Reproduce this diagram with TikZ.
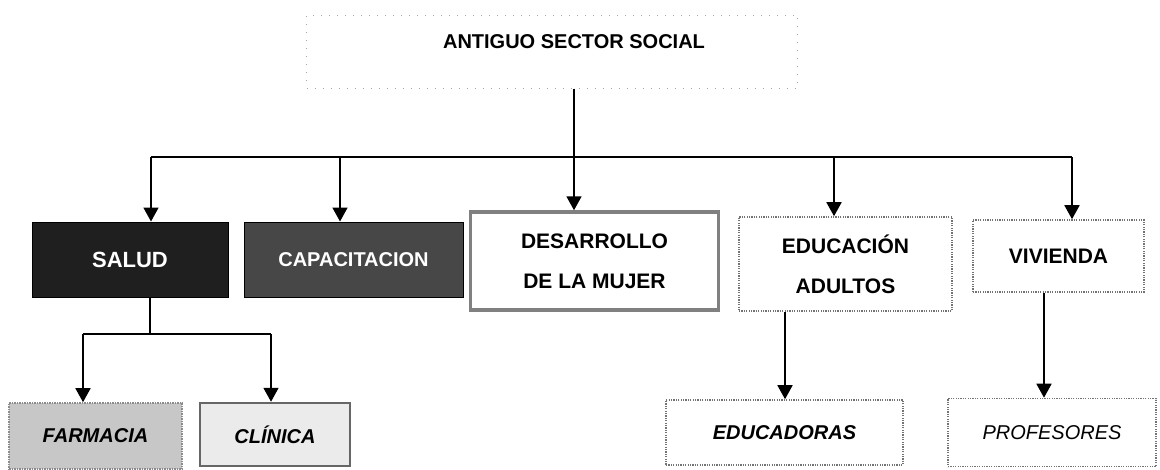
\documentclass[tikz,border=0pt]{standalone}
\usepackage{fontspec}
\setmainfont{Liberation Sans}
\usetikzlibrary{arrows.meta}

\tikzset{
  unitbox/.style={inner sep=0pt, align=center, font=\fontsize{21}{40}\selectfont\bfseries},
  darkbox/.style={unitbox, draw=black, line width=1pt, text=white, font=\fontsize{20}{24}\selectfont\bfseries},
  framebox/.style={unitbox, draw=black!50, line width=3.5pt, fill=white},
  dotbox/.style={unitbox, draw=black!55, line width=1.6pt, dash pattern=on 1.2pt off 1.2pt, fill=white},
  rootframe/.style={draw=black!35, line width=1pt, dash pattern=on 1pt off 7pt, inner sep=0pt},
  connector/.style={line width=1.8pt},
  arrowline/.style={connector, -{Triangle[width=15pt,length=14pt]}}
}

\begin{document}
\begin{tikzpicture}[x=1pt,y=-1pt]
        \useasboundingbox (0,0) rectangle (1160,469);

        \node[rootframe, minimum width=491, minimum height=73] (rootFrame) at (552,51.5) {};
        \node[font=\fontsize{20}{22}\selectfont\bfseries] (rootTitle) at (574,42) {ANTIGUO SECTOR SOCIAL};

        \node[darkbox, fill=black!88, minimum width=196, minimum height=75, font=\fontsize{22}{26}\selectfont\bfseries] (salud) at (130,259.5) {SALUD};
        \node[darkbox, fill=black!72, minimum width=219, minimum height=75] (capacitacion) at (353.5,259.5) {CAPACITACION};
        \node[framebox, minimum width=248, minimum height=98] (desarrolloMujer) at (594.5,261) {DESARROLLO\\DE LA MUJER};
        \node[dotbox, minimum width=213, minimum height=94] (educacionAdultos) at (845.5,264) {EDUCACIÓN\\ADULTOS};
        \node[dotbox, minimum width=171, minimum height=72] (vivienda) at (1058.5,256) {VIVIENDA};

        \node[unitbox, draw=black!45, line width=1.6pt, dash pattern=on 1.5pt off 1pt, fill=black!22,
            minimum width=173, minimum height=66, font=\fontsize{20}{24}\selectfont\bfseries\itshape] (farmacia) at (95.5,436) {FARMACIA};
        \node[unitbox, draw=black!60, line width=2.5pt, fill=black!8,
            minimum width=150, minimum height=63, font=\fontsize{20}{24}\selectfont\bfseries\itshape] (clinica) at (275,434.5) {CLÍNICA};
        \node[dotbox, minimum width=237, minimum height=65, font=\fontsize{20}{24}\selectfont\bfseries\itshape] (educadoras) at (784.5,432.5) {EDUCADORAS};
        \node[dotbox, minimum width=208, minimum height=68, font=\fontsize{20}{24}\selectfont\itshape] (profesores) at (1052,432.5) {PROFESORES};

        % top level
        \coordinate (busLeft) at (151,157);
        \coordinate (busCap) at (340,157);
        \coordinate (busEdu) at (834,157);
        \coordinate (busRight) at (1072,157);
        \draw[connector] (busLeft) -- (busRight);
        \draw[arrowline] (rootTitle |- rootFrame.south) -- (rootTitle |- desarrolloMujer.north);
        \draw[arrowline] (busLeft) -- (busLeft |- salud.north);
        \draw[arrowline] (busCap) -- (busCap |- capacitacion.north);
        \draw[arrowline] (busEdu) -- (busEdu |- educacionAdultos.north);
        \draw[arrowline] (busRight) -- (busRight |- vivienda.north);

        % second level
        \coordinate (saludJoint) at (150,334);
        \coordinate (farmTop) at (83,334);
        \coordinate (clinTop) at (271,334);
        \draw[connector] (saludJoint |- salud.south) -- (saludJoint);
        \draw[connector] (farmTop) -- (clinTop);
        \draw[arrowline] (farmTop) -- (farmTop |- farmacia.north);
        \draw[arrowline] (clinTop) -- (clinTop |- clinica.north);

        \coordinate (eduDrop) at (785,0);
        \coordinate (vivDrop) at (1044,0);
        \draw[arrowline] (eduDrop |- educacionAdultos.south) -- (eduDrop |- educadoras.north);
        \draw[arrowline] (vivDrop |- vivienda.south) -- (vivDrop |- profesores.north);
    \end{tikzpicture}
\end{document}
